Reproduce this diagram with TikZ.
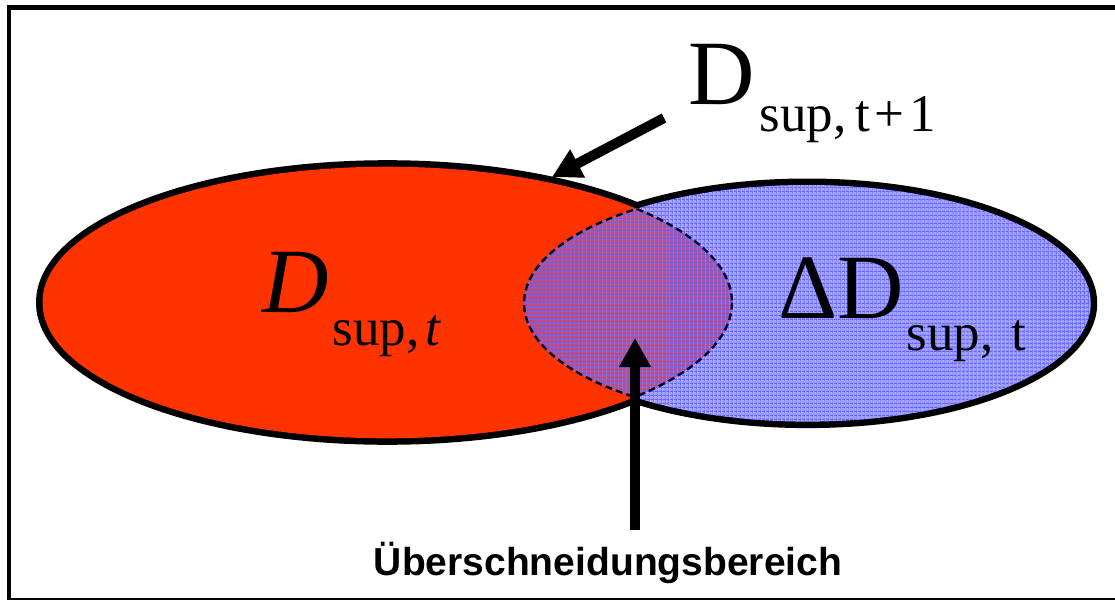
\documentclass[tikz,border=0pt]{standalone}
\usepackage{fontspec}
\setmainfont{Liberation Serif}
\newfontfamily\capfont{Liberation Sans}
\usetikzlibrary{arrows.meta,patterns.meta}
\definecolor{setred}{HTML}{FF3300}
\definecolor{setblue}{HTML}{A4A4FF}
\definecolor{setmix}{HTML}{BC4A84}
\definecolor{gridblue}{HTML}{6464FF}
\newcommand\setsub[2][-33pt]{\raisebox{#1}{\fontsize{53}{53}\selectfont #2}}
\tikzset{
  rim/.style={line width=13pt, draw=black},
  seam/.style={line width=2.4pt, draw=black!85!blue, dash pattern=on 7pt off 4pt},
  bigarrow/.style={line width=10pt, -{Triangle[length=29pt,width=30pt]}},
  hatch/.style={pattern={Lines[angle=#1,distance=4pt,line width=1pt]}, pattern color=gridblue},
  setlbl/.style={anchor=base west, inner sep=0pt, font=\fontsize{92}{92}\selectfont},
}
\begin{document}
\begin{tikzpicture}[x=1pt,y=-1pt]
  \useasboundingbox (0,0) rectangle (1115,599);
  \draw[line width=4.5pt] (9,7.5) rectangle (1200,600.5);
  \coordinate (redc) at (387.25,302.5);
  \coordinate (bluec) at (807.35,303.3);
  \def\redrx{344.75}\def\redry{135.8}
  \def\bluerx{283.35}\def\bluery{118.3}
  % outlines first, the fills hide their inner half
  \draw[rim] (redc) ellipse [x radius=\redrx, y radius=\redry];
  \draw[rim] (bluec) ellipse [x radius=\bluerx, y radius=\bluery];
  \fill[setred] (redc) ellipse [x radius=\redrx, y radius=\redry];
  \fill[setblue] (bluec) ellipse [x radius=\bluerx, y radius=\bluery];
  \begin{scope}
    \clip (redc) ellipse [x radius=\redrx, y radius=\redry];
    \fill[setmix] (bluec) ellipse [x radius=\bluerx, y radius=\bluery];
  \end{scope}
  \fill[hatch=0] (bluec) ellipse [x radius=\bluerx, y radius=\bluery];
  \fill[hatch=90] (bluec) ellipse [x radius=\bluerx, y radius=\bluery];
  \begin{scope}
    \clip (redc) ellipse [x radius=\redrx, y radius=\redry];
    \draw[seam] (bluec) ellipse [x radius=\bluerx, y radius=\bluery];
  \end{scope}
  \begin{scope}
    \clip (bluec) ellipse [x radius=\bluerx, y radius=\bluery];
    \draw[seam] (redc) ellipse [x radius=\redrx, y radius=\redry];
  \end{scope}
  % labels
  \node[setlbl] (oldlbl) at (262,312) {\itshape D\kern4pt\setsub{\upshape sup,\kern6pt\itshape t}};
  \node[setlbl] (gainlbl) at (778,318) {ΔD\kern3pt\setsub[-32pt]{sup,\kern18pt t}};
  \node[setlbl] (nextlbl) at (688,105) {D\kern5pt\setsub[-27pt]{sup,\kern9pt t\kern4pt+\kern5pt1}};
  \node[font=\capfont\bfseries\fontsize{39}{39}\selectfont, anchor=base, inner sep=0pt]
    (overlaplbl) at (608,575) {Überschneidungsbereich};
  % arrows
  \coordinate (nexttail) at (664,118);
  \coordinate (nexttip) at (552,177);
  \coordinate (overlaptail) at (635,530);
  \coordinate (overlaptip) at (635,338);
  \draw[bigarrow] (nexttail) -- (nexttip);
  \draw[bigarrow] (overlaptail) -- (overlaptip);
\end{tikzpicture}
\end{document}
